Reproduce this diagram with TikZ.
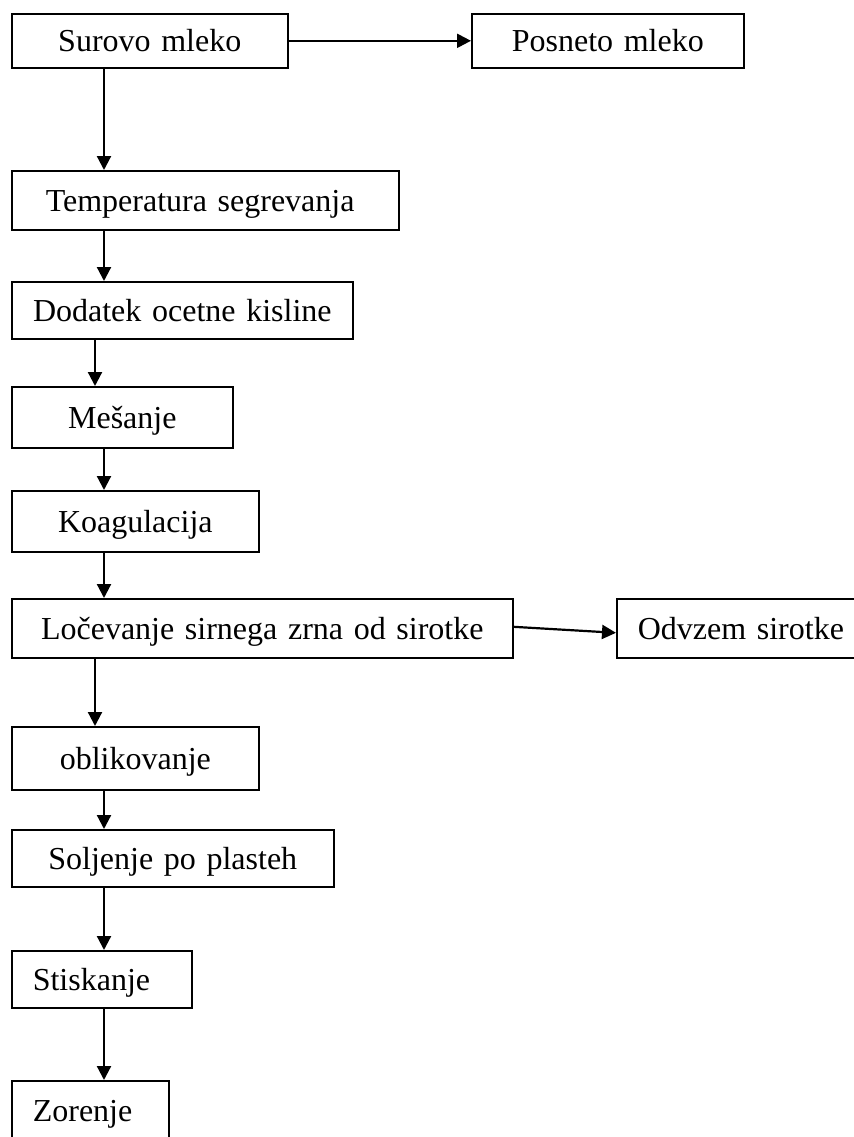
\documentclass[tikz,border=0pt]{standalone}
\usepackage{fontspec}
\setmainfont{Liberation Serif}
\usetikzlibrary{arrows.meta}
\begin{document}
\begin{tikzpicture}[x=0.5pt,y=-0.5pt,
  box/.style={draw, line width=0.8pt, rectangle, anchor=north west, inner ysep=0pt,
    font=\fontsize{16pt}{19pt}\selectfont,
    execute at begin node={\rule[-3.5pt]{0pt}{18pt}}},
  cbox/.style={box, align=center, inner xsep=0pt},
  lbox/.style={box, align=left},
  arr/.style={line width=1.1pt, -{Triangle[length=7pt,width=7pt]}}
]
\clip (0,0) rectangle (854,1137);
\fill[white] (0,0) rectangle (854,1137);
\coordinate (cA) at (104,0);
\coordinate (cB) at (95,0);

\node[cbox, text width=138pt, minimum height=27pt] (s) at (11,13) {Surovo mleko};
\node[cbox, text width=136pt, minimum height=27pt] (p) at (471,13) {Posneto mleko};
\node[lbox, inner xsep=17pt, text width=159.5pt, minimum height=29.5pt] (t) at (11,170) {Temperatura segrevanja};
\node[cbox, text width=170.5pt, minimum height=28.5pt] (d) at (11,281) {Dodatek ocetne kisline};
\node[cbox, text width=110.5pt, minimum height=30.5pt] (m) at (11,386) {Mešanje};
\node[cbox, text width=123.5pt, minimum height=30.5pt] (k) at (11,490) {Koagulacija};
\node[cbox, text width=250.5pt, minimum height=29.5pt] (l) at (11,598) {Ločevanje sirnega zrna od sirotke};
\node[lbox, inner xsep=10.5pt, text width=111pt, minimum height=29.5pt] (o) at (616,598) {Odvzem sirotke};
\node[cbox, text width=123.5pt, minimum height=31.5pt] (ob) at (11,726) {oblikovanje};
\node[cbox, text width=161pt, minimum height=28.5pt] (so) at (11,829) {Soljenje po plasteh};
\node[lbox, inner xsep=10.5pt, text width=69pt, minimum height=28.5pt] (st) at (11,950) {Stiskanje};
\node[lbox, inner xsep=10.5pt, text width=57.5pt, minimum height=30pt] (z) at (11,1080) {Zorenje};

\draw[arr] (s.east) -- (p.west);
\draw[arr] (s.south -| cA) -- (t.north -| cA);
\draw[arr] (t.south -| cA) -- (d.north -| cA);
\draw[arr] (d.south -| cB) -- (m.north -| cB);
\draw[arr] (m.south -| cA) -- (k.north -| cA);
\draw[arr] (k.south -| cA) -- (l.north -| cA);
\draw[arr] ([yshift=0.75pt]l.east) -- ([yshift=-2.25pt]o.west);
\draw[arr] (l.south -| cB) -- (ob.north -| cB);
\draw[arr] (ob.south -| cA) -- (so.north -| cA);
\draw[arr] (so.south -| cA) -- (st.north -| cA);
\draw[arr] (st.south -| cA) -- (z.north -| cA);
\end{tikzpicture}
\end{document}
